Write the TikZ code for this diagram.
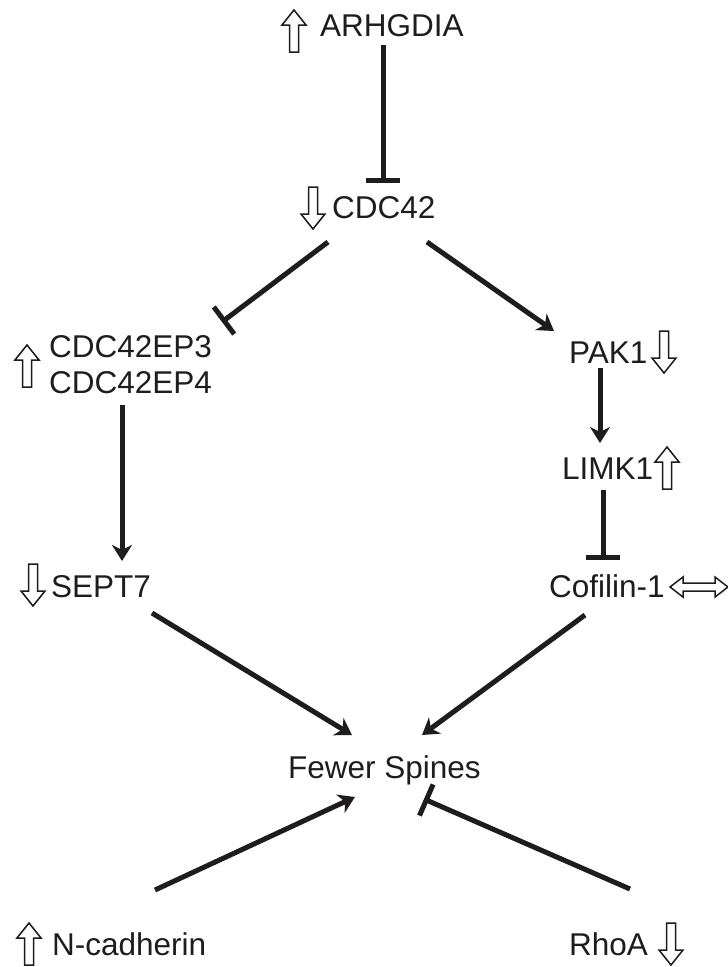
\documentclass[tikz,border=0pt]{standalone}
\usepackage{fontspec}
\setmainfont{Liberation Sans}
\usetikzlibrary{arrows.meta}
\definecolor{ink}{HTML}{1E1C1D}
\tikzset{
  lbl/.style={anchor=base west, inner sep=0pt, text=ink, font=\fontsize{31.5}{36}\selectfont},
  act/.style={draw=ink, line width=5pt, -{Stealth[length=16pt,width=20pt,inset=5pt]}},
  inh/.style={draw=ink, line width=5pt, -{Bar[width=34pt]}},
  openarr/.style={draw=ink, line width=1.5pt, fill=white, line join=miter},
  uparr/.pic={\path[openarr] (0,-21) -- (12,-6) -- (4.5,-6) -- (4.5,21) -- (-4.5,21) -- (-4.5,-6) -- (-12,-6) -- cycle;},
  downarr/.pic={\path[openarr] (0,21) -- (12,6) -- (4.5,6) -- (4.5,-21) -- (-4.5,-21) -- (-4.5,6) -- (-12,6) -- cycle;},
  bothard/.pic={\path[openarr] (-29,0) -- (-16,-10) -- (-16,-4) -- (16,-4) -- (16,-10) -- (29,0) -- (16,10) -- (16,4) -- (-16,4) -- (-16,10) -- cycle;}
}
\begin{document}
\begin{tikzpicture}[x=1pt,y=-1pt]
\useasboundingbox[fill=white] (0,0) rectangle (728,967);
% labels
\node[lbl] (arh) at (320,36) {ARHGDIA};
\node[lbl] (cdc) at (332,218) {CDC42};
\node[lbl] (ep3) at (49,357) {CDC42EP3};
\node[lbl] (ep4) at (49,393) {CDC42EP4};
\node[lbl] (pak) at (569,363) {PAK1};
\node[lbl] (limk) at (562,479) {LIMK1};
\node[lbl] (cof) at (549,597) {Cofilin-1};
\node[lbl] (sept) at (51,597) {SEPT7};
\node[lbl] (few) at (288,778) {Fewer Spines};
\node[lbl] (ncad) at (52,955) {N-cadherin};
\node[lbl] (rhoa) at (569,955) {RhoA};
% regulation marks
\pic at (294,31) {uparr};
\pic at (313,208) {downarr};
\pic at (27,366) {uparr};
\pic at (664,352) {downarr};
\pic at (667,468) {uparr};
\pic at (699,587) {bothard};
\pic at (33,585) {downarr};
\pic at (29,944) {uparr};
\pic at (671,944) {downarr};
% connector ends
\coordinate (a1) at (383,45);  \coordinate (a2) at (383,183);
\coordinate (b1) at (328,242); \coordinate (b2) at (222,322);
\coordinate (c1) at (427,242); \coordinate (c2) at (554,331);
\coordinate (d1) at (600,368); \coordinate (d2) at (600,443);
\coordinate (e1) at (603,490); \coordinate (e2) at (603,560);
\coordinate (f1) at (122,405); \coordinate (f2) at (122,561);
\coordinate (g1) at (152,613); \coordinate (g2) at (352,735);
\coordinate (h1) at (585,615); \coordinate (h2) at (422,735);
\coordinate (i1) at (155,890); \coordinate (i2) at (355,797);
\coordinate (j1) at (630,889); \coordinate (j2) at (424,799);
% connectors
\draw[inh] (a1) -- (a2);
\draw[inh] (b1) -- (b2);
\draw[act] (c1) -- (c2);
\draw[act] (d1) -- (d2);
\draw[inh] (e1) -- (e2);
\draw[act] (f1) -- (f2);
\draw[act] (g1) -- (g2);
\draw[act] (h1) -- (h2);
\draw[act] (i1) -- (i2);
\draw[inh] (j1) -- (j2);
\end{tikzpicture}
\end{document}
